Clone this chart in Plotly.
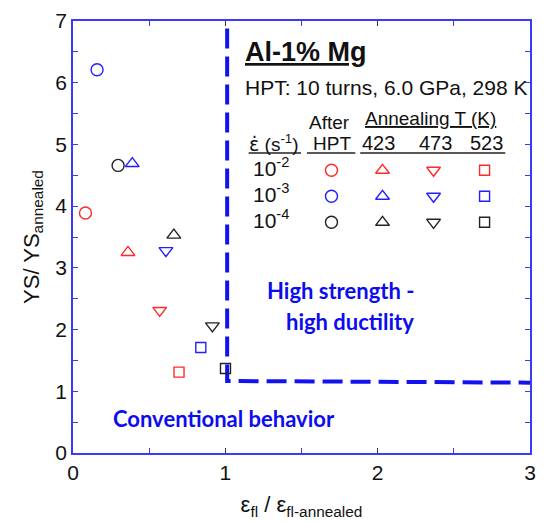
import plotly.graph_objects as go

# ---------------- data ----------------
conditions = ["After HPT", "423", "473", "523"]
rate_keys = ["1e-2", "1e-3", "1e-4"]
rate_labels = ["10<sup>-2</sup>", "10<sup>-3</sup>", "10<sup>-4</sup>"]

# x = eps_fl / eps_fl-annealed, y = YS / YS_annealed ; order: 1e-2, 1e-3, 1e-4
after_hpt_x = [0.082, 0.158, 0.296]
after_hpt_y = [3.89, 6.21, 4.66]
t423_x = [0.361, 0.389, 0.662]
t423_y = [3.25, 4.69, 3.53]
t473_x = [0.569, 0.610, 0.915]
t473_y = [2.31, 3.28, 2.06]
t523_x = [0.696, 0.839, 1.001]
t523_y = [1.31, 1.71, 1.37]

boundary_x = [1.012, 1.012, 3.0]
boundary_y = [6.88, 1.167, 1.14]

xs = [after_hpt_x, t423_x, t473_x, t523_x]
ys = [after_hpt_y, t423_y, t473_y, t523_y]
symbols = ["circle-open", "triangle-up-open", "triangle-down-open", "square-open"]
sizes = [12, 12, 12, 10]
rate_colors = ["#ff2a2a", "#2020ff", "#222222"]

FONT = "Liberation Sans, Arial, sans-serif"
BLUE_TXT = "#0c0cf0"

# plot area in pixels (for placing text annotations)
L, R, T, B = 73, 536, 21, 453
W, H = 544, 522


def px(xp):
    return (xp - L) / (R - L)


def py(yp):
    return (B - yp) / (B - T)


fig = go.Figure()

# boundary dashed line
fig.add_trace(go.Scatter(x=boundary_x, y=boundary_y, mode="lines",
                         line=dict(color="#1212f0", width=4, dash="20px,8px"),
                         hoverinfo="skip", showlegend=False))

# data markers
for ci, cond in enumerate(conditions):
    for ri in range(3):
        fig.add_trace(go.Scatter(
            x=[xs[ci][ri]], y=[ys[ci][ri]], mode="markers",
            marker=dict(symbol=symbols[ci], size=sizes[ci], color=rate_colors[ri],
                        line=dict(width=1.4, color=rate_colors[ri])),
            showlegend=False))

# key table markers on hidden categorical axes
for ci, cond in enumerate(conditions):
    fig.add_trace(go.Scatter(
        x=[cond] * 3, y=rate_keys, mode="markers", xaxis="x2", yaxis="y2",
        marker=dict(symbol=symbols[ci], size=sizes[ci], color=rate_colors,
                    line=dict(width=1.4, color=rate_colors)),
        showlegend=False, hoverinfo="skip"))

annotations = []


def ann(text, xp, yp, size, xanchor="center", color="#111111", family=FONT):
    annotations.append(dict(text=text, x=px(xp), y=py(yp), xref="paper", yref="paper",
                            xanchor=xanchor, yanchor="middle", showarrow=False,
                            font=dict(size=size, color=color, family=family)))


ann("<b><u>Al-1% Mg</u></b>", 245, 52, 27, xanchor="left")
ann("HPT: 10 turns, 6.0 GPa, 298 K", 245, 87, 21, xanchor="left")
ann("After", 333, 122, 19)
ann("HPT", 335, 143, 19)
ann("<u>Annealing T (K)</u>", 435, 118, 19)
ann("<span style='font-family:DejaVu Sans'>ε̇</span> (s<sup>-1</sup>)", 277, 143, 19)
ann("423", 383, 143, 20)
ann("473", 440, 143, 20)
ann("523", 492, 143, 20)
for i, lab in enumerate(rate_labels):
    ann(lab, 274, [167, 193, 219][i], 21)

ann("<b>High strength -</b>", 421, 290, 22, xanchor="right", color=BLUE_TXT, family="Lato, sans-serif")
ann("<b>high ductility</b>", 421, 321, 22, xanchor="right", color=BLUE_TXT, family="Lato, sans-serif")
ann("<b>Conventional behavior</b>", 112, 418, 22, xanchor="left", color=BLUE_TXT, family="Lato, sans-serif")

shapes = []
for x0, x1 in [(251, 304), (310, 359), (364, 511)]:
    shapes.append(dict(type="line", xref="paper", yref="paper", x0=px(x0), x1=px(x1),
                       y0=py(153), y1=py(153), line=dict(color="#222222", width=1.5)))

AX_BLUE = "#3a3aff"
fig.update_layout(
    width=W, height=H,
    margin=dict(l=L, r=W - R, t=T, b=H - B),
    paper_bgcolor="white", plot_bgcolor="white",
    font=dict(family=FONT, color="#111111"),
    xaxis=dict(range=[0, 3], dtick=1, tick0=0, ticks="inside", ticklen=5, tickwidth=1.2,
               tickcolor="#333333", showline=True, linecolor=AX_BLUE, linewidth=1.5,
               mirror="allticks", showgrid=False, zeroline=False,
               tickfont=dict(size=21, color="#111111"),
               minor=dict(dtick=0.5, ticks="inside", ticklen=5, tickcolor=AX_BLUE, tickwidth=1.2),
               title=dict(text="ε<sub>fl</sub> / ε<sub>fl-annealed</sub>",
                          font=dict(size=22, color="#111111"), standoff=14)),
    yaxis=dict(range=[0, 7], dtick=1, tick0=0, ticks="inside", ticklen=5, tickwidth=1.2,
               tickcolor=AX_BLUE, showline=True, linecolor=AX_BLUE, linewidth=1.5,
               mirror="allticks", showgrid=False, zeroline=False,
               tickfont=dict(size=21, color="#111111"),
               minor=dict(dtick=0.5, ticks="inside", ticklen=5, tickcolor=AX_BLUE, tickwidth=1.2),
               title=dict(text="YS/ YS<sub>annealed</sub>",
                          font=dict(size=22, color="#111111"), standoff=10)),
    xaxis2=dict(type="category", categoryarray=conditions, overlaying="x",
                range=[-5.065, 3.89], visible=False),
    yaxis2=dict(type="category", categoryarray=rate_keys, overlaying="y",
                range=[10.87, -5.74], visible=False),
    annotations=annotations, shapes=shapes,
    showlegend=False,
)

fig.write_html("out.html")
